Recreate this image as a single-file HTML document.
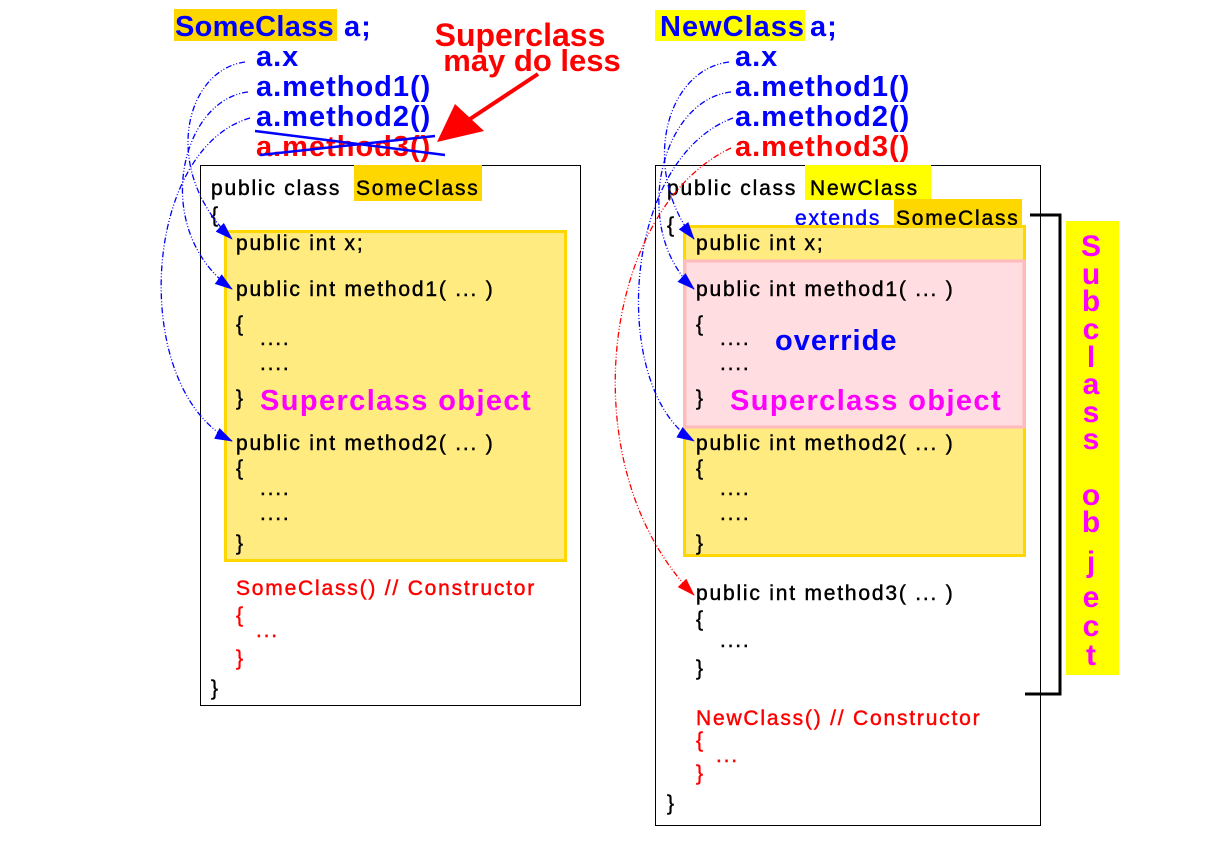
<!DOCTYPE html>
<html><head><meta charset="utf-8"><style>
html,body{margin:0;padding:0;background:#fff}
svg{display:block}
text{font-family:"Liberation Sans",sans-serif}
.c{font-size:21px;fill:#000;letter-spacing:1.8px;stroke:#000;stroke-width:0.45}
.r{font-size:21px;fill:#f00;letter-spacing:1.8px;stroke:#f00;stroke-width:0.45}
.b{font-size:29px;font-weight:bold;fill:#0000ff;letter-spacing:1px}
.m{font-size:29px;font-weight:bold;fill:#ff00ff;letter-spacing:1.4px}
</style></head><body>
<svg width="1230" height="841" viewBox="0 0 1230 841" xmlns="http://www.w3.org/2000/svg">
<defs>
<marker id="ab" markerWidth="18" markerHeight="12" refX="17" refY="6" orient="auto" markerUnits="userSpaceOnUse"><path d="M0,0 L18,6 L0,12 z" fill="#00f"/></marker>
<marker id="ar" markerWidth="18" markerHeight="12" refX="17" refY="6" orient="auto" markerUnits="userSpaceOnUse"><path d="M0,0 L18,6 L0,12 z" fill="#f00"/></marker>
</defs>
<rect x="0" y="0" width="1230" height="841" fill="#fff"/>

<!-- LEFT -->
<rect x="174" y="9" width="163" height="32" fill="#ffd700"/>
<text x="175" y="36" class="b" style="letter-spacing:0.3px">SomeClass</text><text x="344" y="36" class="b">a;</text>
<text x="256" y="66" class="b">a.x</text>
<text x="256" y="96" class="b">a.method1()</text>
<text x="256" y="126" class="b">a.method2()</text>
<text x="256" y="156" class="b" style="fill:#f00">a.method3()</text>
<line x1="255" y1="131" x2="445" y2="155" stroke="#00f" stroke-width="2.5"/>
<line x1="260" y1="155" x2="435" y2="136" stroke="#00f" stroke-width="2.5"/>
<text x="520" y="46" text-anchor="middle" style="font-size:32px;font-weight:bold;fill:#f00">Superclass</text>
<text x="532" y="71" text-anchor="middle" style="font-size:31px;font-weight:bold;fill:#f00">may do less</text>
<line x1="538" y1="74" x2="470" y2="119" stroke="#f00" stroke-width="4"/>
<polygon points="437,142 455,104 484,131" fill="#f00"/>

<rect x="200.5" y="165.5" width="380" height="540" fill="none" stroke="#000" stroke-width="1"/>
<rect x="354" y="165" width="128" height="36" fill="#ffd700"/>
<text x="211" y="195" class="c">public class <tspan x="356">SomeClass</tspan></text>
<text x="211" y="222" class="c">{</text>
<rect x="225.5" y="231.5" width="340" height="329" fill="#ffeb80" stroke="#ffd700" stroke-width="3"/>
<text x="236" y="250" class="c">public  int x;</text>
<text x="236" y="296" class="c">public int method1( ... )</text>
<text x="236" y="331" class="c">{</text>
<text x="260" y="345" class="c">....</text>
<text x="260" y="370" class="c">....</text>
<text x="236" y="405" class="c">}</text>
<text x="260" y="410" class="m">Superclass object</text>
<text x="236" y="450" class="c">public int method2( ... )</text>
<text x="236" y="475" class="c">{</text>
<text x="260" y="495" class="c">....</text>
<text x="260" y="520" class="c">....</text>
<text x="236" y="550" class="c">}</text>
<text x="236" y="595" class="r">SomeClass() // Constructor</text>
<text x="236" y="622" class="r">{</text>
<text x="256" y="637" class="r">...</text>
<text x="236" y="665" class="r">}</text>
<text x="211" y="695" class="c">}</text>

<g fill="none" stroke="#00f" stroke-width="1.3" stroke-dasharray="6,2,1,2,1,2">
<path d="M245,62 C185,70 160,170 232,239" marker-end="url(#ab)"/>
<path d="M248,92 C180,100 150,230 232,289" marker-end="url(#ab)"/>
<path d="M250,118 C140,150 130,390 232,441" marker-end="url(#ab)"/>
</g>

<!-- RIGHT -->
<rect x="655" y="10" width="150" height="31" fill="#ffff00"/>
<text x="660" y="36" class="b">NewClass</text><text x="810" y="36" class="b">a;</text>
<text x="735" y="66" class="b">a.x</text>
<text x="735" y="96" class="b">a.method1()</text>
<text x="735" y="126" class="b">a.method2()</text>
<text x="735" y="156" class="b" style="fill:#f00">a.method3()</text>

<rect x="655.5" y="165.5" width="385" height="660" fill="none" stroke="#000" stroke-width="1"/>
<rect x="805" y="165" width="126" height="35" fill="#ffff00"/>
<text x="667" y="195" class="c">public class <tspan x="810">NewClass</tspan></text>
<rect x="894" y="199" width="128" height="37" fill="#ffd700"/>
<text x="795" y="225" class="c" style="fill:#00f;stroke:#00f">extends</text>
<text x="896" y="225" class="c">SomeClass</text>
<text x="667" y="232" class="c">{</text>
<rect x="684.5" y="226.5" width="340" height="329" fill="#ffeb80" stroke="#ffd700" stroke-width="3"/>
<rect x="685" y="261" width="339" height="166" fill="#ffdde0" stroke="#ffbbbb" stroke-width="3"/>
<text x="696" y="250" class="c">public  int x;</text>
<text x="696" y="296" class="c">public int method1( ... )</text>
<text x="696" y="331" class="c">{</text>
<text x="720" y="345" class="c">....</text>
<text x="720" y="370" class="c">....</text>
<text x="696" y="405" class="c">}</text>
<text x="775" y="350" class="b">override</text>
<text x="730" y="410" class="m">Superclass object</text>
<text x="696" y="450" class="c">public int method2( ... )</text>
<text x="696" y="475" class="c">{</text>
<text x="720" y="495" class="c">....</text>
<text x="720" y="520" class="c">....</text>
<text x="696" y="550" class="c">}</text>
<text x="696" y="600" class="c">public int method3( ... )</text>
<text x="696" y="626" class="c">{</text>
<text x="720" y="647" class="c">....</text>
<text x="696" y="675" class="c">}</text>
<text x="696" y="725" class="r">NewClass() // Constructor</text>
<text x="696" y="747" class="r">{</text>
<text x="716" y="762" class="r">...</text>
<text x="696" y="780" class="r">}</text>
<text x="667" y="810" class="c">}</text>

<polyline points="1030,215 1060,215 1060,694 1025,694" fill="none" stroke="#000" stroke-width="3"/>
<rect x="1066" y="221" width="53" height="454" fill="#ffff00"/>
<g style="font-size:30px;font-weight:bold;fill:#ff00ff" text-anchor="middle">
<text x="1091" y="256">S</text>
<text x="1091" y="284">u</text>
<text x="1091" y="311">b</text>
<text x="1091" y="339">c</text>
<text x="1091" y="367">l</text>
<text x="1091" y="394">a</text>
<text x="1091" y="422">s</text>
<text x="1091" y="449">s</text>
<text x="1091" y="505">o</text>
<text x="1091" y="532">b</text>
<text x="1091" y="572">j</text>
<text x="1091" y="607">e</text>
<text x="1091" y="636">c</text>
<text x="1091" y="665">t</text>
</g>

<g fill="none" stroke="#00f" stroke-width="1.3" stroke-dasharray="6,2,1,2,1,2">
<path d="M729,62 C665,70 640,170 694,239" marker-end="url(#ab)"/>
<path d="M731,92 C660,100 630,230 694,289" marker-end="url(#ab)"/>
<path d="M733,118 C620,160 610,390 694,441" marker-end="url(#ab)"/>
</g>
<path d="M731,148 C600,210 570,470 694,595" fill="none" stroke="#f00" stroke-width="1.3" stroke-dasharray="6,2,1,2,1,2" marker-end="url(#ar)"/>
</svg>
</body></html>
